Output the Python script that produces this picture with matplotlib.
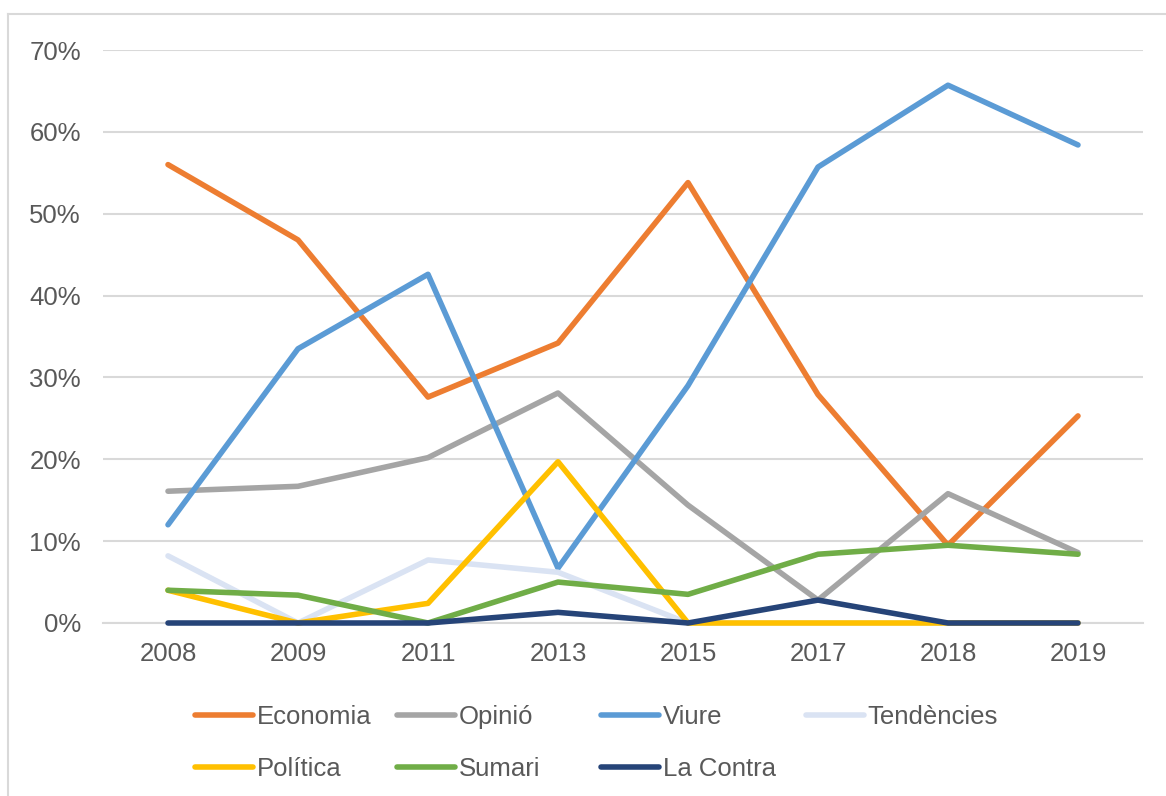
import matplotlib.pyplot as plt
from matplotlib.lines import Line2D
from matplotlib.ticker import PercentFormatter

plt.rcParams['font.family'] = ['Liberation Sans', 'DejaVu Sans']

years = ["2008", "2009", "2011", "2013", "2015", "2017", "2018", "2019"]

economia   = [56.0, 46.8, 27.6, 34.2, 53.8, 27.9, 9.5, 25.3]
opinio     = [16.1, 16.7, 20.2, 28.1, 14.4, 2.8, 15.8, 8.6]
viure      = [12.0, 33.5, 42.6, 6.7, 29.0, 55.7, 65.7, 58.4]
tendencies = [8.2, 0.0, 7.7, 6.2, 0.0, 0.0, 0.0, 0.0]
politica   = [4.0, 0.0, 2.4, 19.7, 0.0, 0.0, 0.0, 0.0]
sumari     = [4.0, 3.4, 0.0, 5.0, 3.5, 8.4, 9.5, 8.4]
la_contra  = [0.0, 0.0, 0.0, 1.3, 0.0, 2.8, 0.0, 0.0]

series = [
    ("Economia", economia, "#ED7D31"),
    ("Opinió", opinio, "#A5A5A5"),
    ("Viure", viure, "#5B9BD5"),
    ("Tendències", tendencies, "#DAE3F3"),
    ("Política", politica, "#FFC000"),
    ("Sumari", sumari, "#70AD47"),
    ("La Contra", la_contra, "#264478"),
]

fig = plt.figure(figsize=(11.66, 7.96), dpi=100)
ax = fig.add_axes([103 / 1166, 1 - 623 / 796, (1143 - 103) / 1166, (623 - 50) / 796])

x = range(len(years))
handles = []
for name, vals, col in series:
    ln, = ax.plot(x, [v / 100 for v in vals], color=col, lw=4,
                  solid_capstyle="round", solid_joinstyle="round",
                  clip_on=False, zorder=3, label=name)
    handles.append(ln)

ax.set_xlim(-0.5, len(years) - 0.5)
ax.set_ylim(0, 0.7)
ax.set_yticks([i / 10 for i in range(8)])
ax.yaxis.set_major_formatter(PercentFormatter(1.0, decimals=0))
ax.set_xticks(list(x))
ax.set_xticklabels(years)
ax.grid(axis="y", color="#D9D9D9", lw=1.5)
ax.set_axisbelow(True)
for s in ["top", "right", "left"]:
    ax.spines[s].set_visible(False)
ax.spines["bottom"].set_color("#D9D9D9")
ax.spines["bottom"].set_linewidth(1.5)
ax.tick_params(axis="both", length=0, labelsize=18.5, labelcolor="#595959")
ax.tick_params(axis="x", pad=14)
ax.tick_params(axis="y", pad=16)

# legend: equal-width columns like Excel
col_x = [195, 397, 601, 806]
for i, cx in enumerate(col_x):
    hs = [handles[j] for j in (i, i + 4) if j < len(handles)]
    fig.legend(handles=hs, labels=[h.get_label() for h in hs],
               loc="upper left", bbox_to_anchor=(cx / 1166, 1 - 705 / 796),
               frameon=False, fontsize=18.5, labelcolor="#595959",
               handlelength=2.25, handletextpad=0.15, labelspacing=1.1,
               borderpad=0, borderaxespad=0)

# outer chart border
fig.add_artist(Line2D([8 / 1166, 8 / 1166], [0, 1 - 14 / 796], color="#D9D9D9", lw=1.5))
fig.add_artist(Line2D([8 / 1166, 1], [1 - 14 / 796, 1 - 14 / 796], color="#D9D9D9", lw=1.5))

fig.savefig("out.png", dpi=100)
